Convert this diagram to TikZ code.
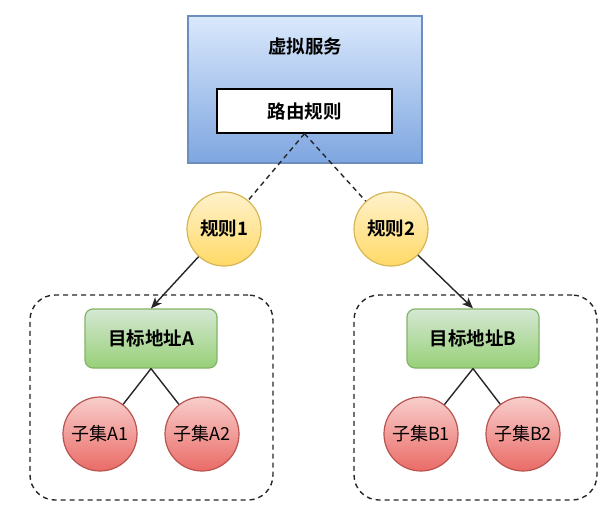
\documentclass[tikz,border=0pt]{standalone}
\usepackage{fontspec}
\newfontfamily\cjk{Noto Sans CJK SC}
\newfontfamily\cjkb{Noto Sans CJK SC Bold}
\usetikzlibrary{arrows.meta}
\definecolor{bluetop}{HTML}{DAE8FC}
\definecolor{bluebot}{HTML}{7EA6E0}
\definecolor{bluedraw}{HTML}{6C8EBF}
\definecolor{yeltop}{HTML}{FFF2CC}
\definecolor{yelbot}{HTML}{FFD966}
\definecolor{yeldraw}{HTML}{D6B656}
\definecolor{grntop}{HTML}{D5E8D4}
\definecolor{grnbot}{HTML}{97D077}
\definecolor{grndraw}{HTML}{82B366}
\definecolor{redtop}{HTML}{F8CECC}
\definecolor{redbot}{HTML}{EA6B66}
\definecolor{reddraw}{HTML}{B85450}
\tikzset{
  svcbox/.style={draw=bluedraw, top color=bluetop, bottom color=bluebot, line width=1.2pt, minimum width=234pt, minimum height=147pt},
  rulebox/.style={draw=black, fill=white, line width=1.3pt, minimum width=175pt, minimum height=44pt, font=\cjkb\fontsize{18.5}{21}\selectfont},
  rulecirc/.style={circle, draw=yeldraw, top color=yeltop, bottom color=yelbot, line width=1.2pt, minimum size=74pt, inner sep=0pt, font=\cjkb\fontsize{18.5}{21}\selectfont},
  dstbox/.style={rounded corners=8pt, draw=grndraw, top color=grntop, bottom color=grnbot, line width=1.2pt, minimum width=132pt, minimum height=59pt, font=\cjkb\fontsize{18.5}{21}\selectfont},
  subcirc/.style={circle, draw=reddraw, top color=redtop, bottom color=redbot, line width=1.2pt, minimum size=74pt, inner sep=0pt, font=\cjk\fontsize{18}{21}\selectfont},
  grpbox/.style={draw=black!85, dash pattern=on 5pt off 4pt, line width=1.4pt, rounded corners=25pt},
  dashlink/.style={draw=black!85, dash pattern=on 5pt off 4pt, line width=1.4pt},
  arrlink/.style={draw=black!85, line width=1.4pt, -{Stealth[length=11pt,width=9pt,inset=3pt]}},
  plainlink/.style={draw=black!85, line width=1.4pt},
  ttl/.style={font=\cjkb\fontsize{18.5}{21}\selectfont}
}
\begin{document}
\begin{tikzpicture}[x=1pt,y=-1pt]
\useasboundingbox (0,0) rectangle (616,515);
\node[svcbox] (svc) at (305,89.5) {};
\node[ttl] (svct) at (305,46) {虚拟服务};
\node[rulebox] (route) at (304.5,111) {路由规则};
\node[rulecirc] (r1) at (224,229) {规则1};
\node[rulecirc] (r2) at (391,229) {规则2};
\node[grpbox, minimum width=243pt, minimum height=205pt] (ga) at (151.5,397.5) {};
\node[grpbox, minimum width=243pt, minimum height=205pt] (gb) at (475.5,397.5) {};
\node[dstbox] (da) at (151,338.5) {目标地址A};
\node[dstbox] (db) at (473,338.5) {目标地址B};
\node[subcirc] (a1) at (100,434) {子集A1};
\node[subcirc] (a2) at (202,434) {子集A2};
\node[subcirc] (b1) at (421,434) {子集B1};
\node[subcirc] (b2) at (523,434) {子集B2};
\draw[dashlink] (route.south) -- (r1);
\draw[dashlink] (route.south) -- (r2);
\draw[arrlink] (r1) -- (da.north);
\draw[arrlink] (r2) -- (db.north);
\draw[plainlink] (da.south) -- (a1);
\draw[plainlink] (da.south) -- (a2);
\draw[plainlink] (db.south) -- (b1);
\draw[plainlink] (db.south) -- (b2);
\end{tikzpicture}
\end{document}
